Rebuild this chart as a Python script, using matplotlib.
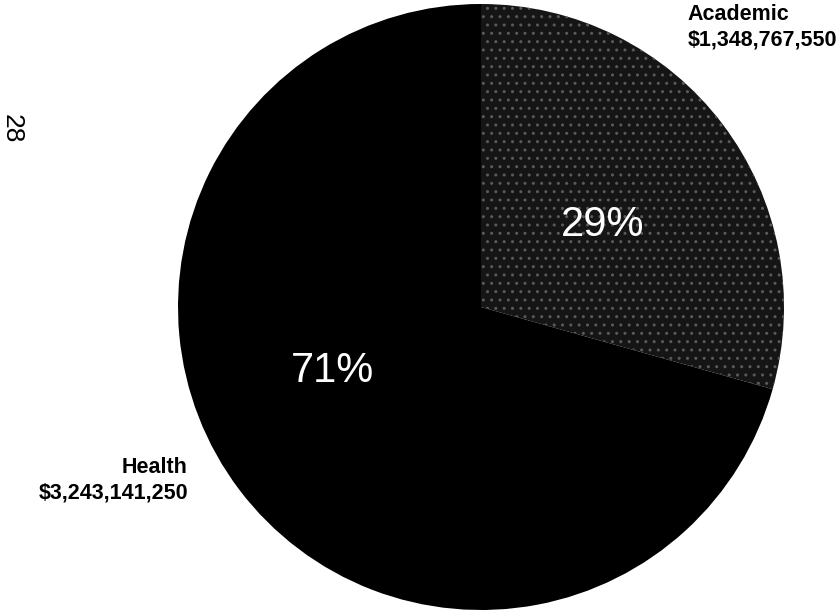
import matplotlib
matplotlib.use("Agg")
import matplotlib.pyplot as plt

plt.rcParams['font.family'] = ['Liberation Sans', 'DejaVu Sans']

# data
categories = ["Academic", "Health"]
amounts = [1348767550, 3243141250]
amount_labels = ["$1,348,767,550", "$3,243,141,250"]
page_number = "28"

fig = plt.figure(figsize=(8.4, 6.15), dpi=100)
# pie centre ~ (481, 307) px, radius ~303 px
ax = fig.add_axes([(481 - 303) / 840, (615 - 307 - 303) / 615, 606 / 840, 606 / 615])

wedges, texts, autotexts = ax.pie(
    amounts, startangle=90, counterclock=False,
    colors=["#151515", "#000000"], radius=1.0,
    autopct=lambda p: f"{p:.0f}%",
    wedgeprops=dict(linewidth=0),
    textprops=dict(color="white", fontsize=30),
)
# speckled look for the academic slice
wedges[0].set_hatch("..")
wedges[0].set_edgecolor("#5a5a5a")
wedges[0].set_linewidth(0)

# move percentage labels
autotexts[0].set_position((0.40, 0.27))
autotexts[1].set_position((-0.49, -0.21))

ax.set_xlim(-1, 1)
ax.set_ylim(-1, 1)
ax.set_aspect("equal")
ax.axis("off")

ax.text(0.683, 0.924, f"{categories[0]}\n{amount_labels[0]}", ha="left",
        va="center", fontsize=15.5, fontweight="bold", linespacing=1.25,
        clip_on=False)
ax.text(-0.967, -0.571, f"{categories[1]}\n{amount_labels[1]}", ha="right",
        va="center", fontsize=15.5, fontweight="bold", linespacing=1.25,
        multialignment="right", clip_on=False)

fig.text(12 / 840, 1 - 129 / 615, page_number, rotation=-90, fontsize=19,
         ha="center", va="center")

fig.savefig("out.png", dpi=100)
